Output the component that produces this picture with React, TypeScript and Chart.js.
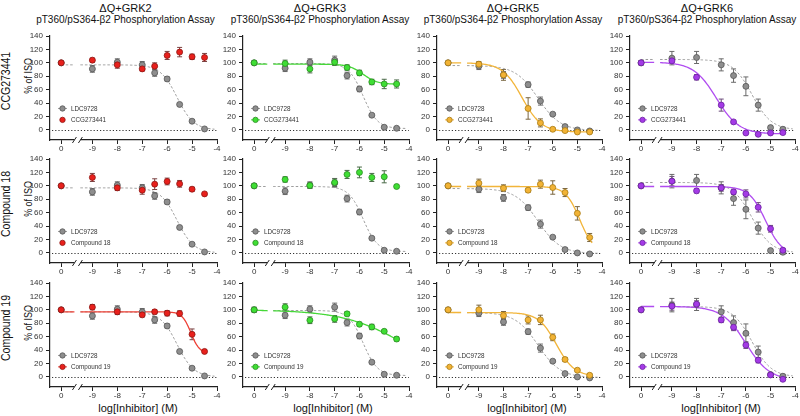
import React, { useEffect, useRef } from "react";
import { Chart, registerables } from "chart.js";

Chart.register(...registerables);
Chart.defaults.font.family = "'Liberation Sans', Arial, sans-serif";

// ---------- axis definitions ----------
const LOG_DOSES = [0, -9, -8, -7, -6.5, -6, -5.5, -5, -4.5]; // 0 = vehicle
const ZERO_POS = -10.25; // where the vehicle ("0") sits on the broken axis
const X_MIN = -10.7;
const X_MAX = -4;
const AXIS_BREAK = [-9.72, -9.48];
const X_TICKS = [ZERO_POS, -9, -8, -7, -6, -5, -4];
const Y_TICKS = [0, 20, 40, 60, 80, 100, 120, 140];
const Y_MIN = -15;
const Y_MAX = 140;
const LEGEND_Y = [32, 15];
const LDC_CURVE_END = -4.1;
const CMP_CURVE_END = -4.4;

// ---------- text ----------
const COLUMN_TITLES = ["ΔQ+GRK2", "ΔQ+GRK3", "ΔQ+GRK5", "ΔQ+GRK6"];
const ASSAY_TITLE = "pT360/pS364-β2 Phosphorylation Assay";
const ROW_COMPOUNDS = ["CCG273441", "Compound 18", "Compound 19"];
const Y_TITLE = "% of ISO";
const X_TITLE = "log[Inhibitor] (M)";
const REF_LABEL = "LDC9728";

// ---------- reference inhibitor LDC9728 (per GRK) ----------
const LDC_GRK2 = [100, 91, 101, 97, 85, 76, 38, 13, 1.5];
const LDC_GRK2_SEM = [2, 5, 5, 5, 5, 3, 2, 2, 1];
const LDC_GRK2_FIT = [97, 0, -5.6, 1.3]; // top, bottom, logIC50, hill

const LDC_GRK3 = [100, 92, 101, 104, 81, 61, 22, 4, 2.5];
const LDC_GRK3_SEM = [2, 5, 5, 6, 5, 4, 2, 2, 1];
const LDC_GRK3_FIT = [99, 2, -5.85, 1.5];

const LDC_GRK5 = [100, 95, 82, 67.5, 43, 23.5, 5, 0, -1.5];
const LDC_GRK5_SEM = [2, 5, 5, 4, 6, 2, 2, 2, 2];
const LDC_GRK5_FIT = [96, -1, -6.6, 0.95];

const LDC_GRK6 = [100, 107, 108, 97, 81, 65, 37, 3.5, 1];
const LDC_GRK6_SEM = [3, 10, 9, 9, 10, 14, 9, 3, 3];
const LDC_GRK6_FIT = [105, 0, -5.75, 1.1];

// ---------- CCG273441 ----------
const CCG_GRK2 = [100, 104, 97, 91, 95, 111, 116, 109, 108];
const CCG_GRK2_SEM = [2, 3, 5, 3, 5, 6, 7, 4, 6];
const CCG_GRK3 = [100, 99, 91, 101, 93, 85, 71.5, 68.5, 68.5];
const CCG_GRK3_SEM = [3, 5, 6, 5, 4, 4, 4, 7, 6];
const CCG_GRK3_FIT = [98, 68, -5.85, 1.5];
const CCG_GRK5 = [100, 98, 82, 32, 10.5, 1, -1, -3, -3];
const CCG_GRK5_SEM = [2, 4, 8, 16, 6, 2, 1, 1, 1];
const CCG_GRK5_FIT = [100, -3, -7.25, 1.1];
const CCG_GRK6 = [100, 103, 78.5, 37, 12, -4.5, -6.5, -4.5, -4];
const CCG_GRK6_SEM = [3, 3, 4, 9, 2, 1, 1, 1, 1];
const CCG_GRK6_FIT = [101, -6, -7.2, 0.95];

// ---------- Compound 18 ----------
const C18_GRK2 = [100, 112.5, 97, 93.5, 102.5, 106.5, 103, 95, 88];
const C18_GRK2_SEM = [2, 6, 4, 6, 8, 5, 5, 3, 2];
const C18_GRK3 = [100, 109.5, 100.5, 105, 117, 120, 112.5, 113.5, 99];
const C18_GRK3_SEM = [3, 4, 4, 6, 6, 8, 6, 9, 2];
const C18_GRK5 = [100, 104, 96.5, 93.5, 102.5, 97.5, 90, 59, 23];
const C18_GRK5_SEM = [2, 6, 5, 3, 6, 10, 6, 10, 6];
const C18_GRK5_FIT = [99, 0, -4.9, 1.5];
const C18_GRK6 = [100, 107, 92.5, 97, 91, 88, 68, 36, 4];
const C18_GRK6_SEM = [2, 7, 3, 5, 4, 6, 7, 5, 3];
const C18_GRK6_FIT = [99, -3, -5.2, 1.3];

// ---------- Compound 19 ----------
const C19_GRK2 = [100, 104, 97, 92.5, 97, 95, 94.5, 63.5, 38];
const C19_GRK2_SEM = [2, 4, 4, 3, 3, 4, 4, 8, 2];
const C19_GRK2_FIT = [97, 35, -5.05, 2.5];
const C19_GRK3 = [100, 104, 84.5, 86.5, 94, 78.5, 74.5, 68, 56.5];
const C19_GRK3_SEM = [4, 5, 5, 5, 3, 3, 4, 2, 3];
const C19_GRK3_FIT = [100, 0, -4.2, 0.35];
const C19_GRK5 = [100, 100, 91.5, 85, 85, 59, 26, 10, 2.5];
const C19_GRK5_SEM = [2, 7, 6, 6, 7, 5, 3, 2, 2];
const C19_GRK5_FIT = [96, 1, -5.85, 1.2];
const C19_GRK6 = [100, 105.5, 108.5, 85, 74, 47.5, 25, 3, -3.5];
const C19_GRK6_SEM = [2, 6, 5, 4, 5, 5, 4, 2, 2];
const C19_GRK6_FIT = [105, -5, -6.0, 0.9];

// ---------- styles ----------
const GRAY = { fill: "#8e8e8e", border: "#555555", line: "#9a9a9a", err: "#6a6a6a" };
const COL_STYLES = [
  { fill: "#e8201c", border: "#8e1512", line: "#ee4136", err: "#7a4040" },
  { fill: "#3fde34", border: "#2a8a22", line: "#46d838", err: "#4a6a48" },
  { fill: "#f2b335", border: "#a67a14", line: "#f2b53a", err: "#7a6640" },
  { fill: "#a43ae6", border: "#6a1f9e", line: "#b04cf0", err: "#6a4a7a" },
];

const REFS = [
  { v: LDC_GRK2, e: LDC_GRK2_SEM, fit: LDC_GRK2_FIT },
  { v: LDC_GRK3, e: LDC_GRK3_SEM, fit: LDC_GRK3_FIT },
  { v: LDC_GRK5, e: LDC_GRK5_SEM, fit: LDC_GRK5_FIT },
  { v: LDC_GRK6, e: LDC_GRK6_SEM, fit: LDC_GRK6_FIT },
];
const COMPOUNDS = [
  [
    { v: CCG_GRK2, e: CCG_GRK2_SEM, fit: null },
    { v: CCG_GRK3, e: CCG_GRK3_SEM, fit: CCG_GRK3_FIT },
    { v: CCG_GRK5, e: CCG_GRK5_SEM, fit: CCG_GRK5_FIT },
    { v: CCG_GRK6, e: CCG_GRK6_SEM, fit: CCG_GRK6_FIT },
  ],
  [
    { v: C18_GRK2, e: C18_GRK2_SEM, fit: null },
    { v: C18_GRK3, e: C18_GRK3_SEM, fit: null },
    { v: C18_GRK5, e: C18_GRK5_SEM, fit: C18_GRK5_FIT },
    { v: C18_GRK6, e: C18_GRK6_SEM, fit: C18_GRK6_FIT },
  ],
  [
    { v: C19_GRK2, e: C19_GRK2_SEM, fit: C19_GRK2_FIT },
    { v: C19_GRK3, e: C19_GRK3_SEM, fit: C19_GRK3_FIT },
    { v: C19_GRK5, e: C19_GRK5_SEM, fit: C19_GRK5_FIT },
    { v: C19_GRK6, e: C19_GRK6_SEM, fit: C19_GRK6_FIT },
  ],
];

// ---------- layout ----------
const COL_LEFT = [18, 211, 405, 598];
const COL_WIDTH = [207, 206, 205, 202];
const COL_PAD_R = [8, 8, 8, 4];
const ROW_TOP = [28, 151, 275];
const CANVAS_H = 134;
const PAD_TOP = 8;
const Y_AXIS_W = 32;
const X_AXIS_H = 22;
const TITLE_CX = [125.5, 320, 513, 707];
const XTITLE_CX = [138, 333, 527, 721];

// dose-response model (four-parameter logistic) for the fitted curves
function logistic(p: number[], x: number) {
  const [top, bottom, logIC50, hill] = p;
  return bottom + (top - bottom) / (1 + Math.pow(10, (x - logIC50) * hill));
}
function curve(p: number[], xEnd: number) {
  const pts: { x: number; y: number | null }[] = [];
  const step = 0.04;
  for (let x = ZERO_POS; x < AXIS_BREAK[0]; x += step) pts.push({ x, y: logistic(p, x) });
  pts.push({ x: AXIS_BREAK[0], y: logistic(p, AXIS_BREAK[0]) });
  pts.push({ x: (AXIS_BREAK[0] + AXIS_BREAK[1]) / 2, y: null });
  for (let x = AXIS_BREAK[1]; x < xEnd; x += step) pts.push({ x, y: logistic(p, x) });
  pts.push({ x: xEnd, y: logistic(p, xEnd) });
  return pts;
}
const pos = (d: number) => (d === 0 ? ZERO_POS : d);

// ---------- plugins ----------
const zeroLinePlugin = {
  id: "zeroLine",
  beforeDatasetsDraw(chart: any) {
    const { ctx, chartArea } = chart;
    const y = Math.round(chart.scales.y.getPixelForValue(0)) + 0.5;
    ctx.save();
    ctx.strokeStyle = "#333";
    ctx.lineWidth = 1;
    ctx.setLineDash([1.2, 2]);
    ctx.beginPath();
    ctx.moveTo(chartArea.left + 2, y);
    ctx.lineTo(chartArea.right, y);
    ctx.stroke();
    ctx.restore();
  },
};

const errorBarPlugin = {
  id: "errorBars",
  beforeDatasetsDraw(chart: any) {
    const { ctx } = chart;
    const ys = chart.scales.y;
    chart.data.datasets.forEach((ds: any, i: number) => {
      if (!ds.errors) return;
      const meta = chart.getDatasetMeta(i);
      ctx.save();
      ctx.strokeStyle = ds.errorColor;
      ctx.lineWidth = 1;
      meta.data.forEach((el: any, j: number) => {
        const e = ds.errors[j];
        const v = ds.data[j].y;
        const x = el.x;
        const y1 = ys.getPixelForValue(v + e);
        const y2 = ys.getPixelForValue(v - e);
        ctx.beginPath();
        ctx.moveTo(x, y1);
        ctx.lineTo(x, y2);
        ctx.moveTo(x - 2.5, y1);
        ctx.lineTo(x + 2.5, y1);
        ctx.moveTo(x - 2.5, y2);
        ctx.lineTo(x + 2.5, y2);
        ctx.stroke();
      });
      ctx.restore();
    });
  },
};

const axisBreakPlugin = {
  id: "axisBreak",
  afterDraw(chart: any) {
    const { ctx, chartArea } = chart;
    const xs = chart.scales.x;
    const x1 = xs.getPixelForValue(AXIS_BREAK[0]);
    const x2 = xs.getPixelForValue(AXIS_BREAK[1]);
    const yb = chartArea.bottom;
    ctx.save();
    ctx.fillStyle = "#fff";
    ctx.fillRect(x1, yb - 2, x2 - x1, 4);
    ctx.strokeStyle = "#222";
    ctx.lineWidth = 1;
    ctx.beginPath();
    ctx.moveTo(x1 - 2, yb + 3);
    ctx.lineTo(x1 + 2, yb - 3);
    ctx.moveTo(x2 - 2, yb + 3);
    ctx.lineTo(x2 + 2, yb - 3);
    ctx.stroke();
    ctx.restore();
  },
};

const panelLegendPlugin = {
  id: "panelLegend",
  afterDraw(chart: any, _args: any, opts: any) {
    const { ctx, chartArea } = chart;
    const ys = chart.scales.y;
    (opts.items || []).forEach((it: any, k: number) => {
      const y = ys.getPixelForValue(LEGEND_Y[k]);
      const x0 = chartArea.left + 8;
      ctx.save();
      if (it.line) {
        ctx.strokeStyle = it.line;
        ctx.lineWidth = 1;
        ctx.setLineDash(it.dash || []);
        ctx.beginPath();
        ctx.moveTo(x0, y);
        ctx.lineTo(x0 + 9, y);
        ctx.stroke();
        ctx.setLineDash([]);
      }
      ctx.beginPath();
      ctx.arc(x0 + 4.5, y, 2.7, 0, Math.PI * 2);
      ctx.fillStyle = it.fill;
      ctx.fill();
      ctx.lineWidth = 0.8;
      ctx.strokeStyle = it.border;
      ctx.stroke();
      ctx.fillStyle = "#333";
      ctx.font = "6.3px 'Liberation Sans', Arial, sans-serif";
      ctx.textBaseline = "middle";
      ctx.textAlign = "left";
      ctx.fillText(it.label, x0 + 13, y + 0.3);
      ctx.restore();
    });
  },
};

function Panel({ row, col }: { row: number; col: number }) {
  const ref = useRef<HTMLCanvasElement | null>(null);
  useEffect(() => {
    const ref0 = REFS[col];
    const cmp = COMPOUNDS[row][col];
    const st = COL_STYLES[col];
    const label = ROW_COMPOUNDS[row];
    const datasets: any[] = [
      {
        label,
        data: LOG_DOSES.map((d, i) => ({ x: pos(d), y: cmp.v[i] })),
        errors: cmp.e,
        errorColor: st.err,
        pointRadius: 3,
        pointBackgroundColor: st.fill,
        pointBorderColor: st.border,
        pointBorderWidth: 0.8,
        showLine: false,
      },
      {
        label: REF_LABEL,
        data: LOG_DOSES.map((d, i) => ({ x: pos(d), y: ref0.v[i] })),
        errors: ref0.e,
        errorColor: GRAY.err,
        pointRadius: 3,
        pointBackgroundColor: GRAY.fill,
        pointBorderColor: GRAY.border,
        pointBorderWidth: 0.8,
        showLine: false,
      },
    ];
    if (cmp.fit) {
      datasets.push({
        label: label + " fit",
        data: curve(cmp.fit, CMP_CURVE_END),
        showLine: true,
        pointRadius: 0,
        borderColor: st.line,
        borderWidth: 1.3,
        spanGaps: false,
      });
    }
    datasets.push({
      label: REF_LABEL + " fit",
      data: curve(ref0.fit, LDC_CURVE_END),
      showLine: true,
      pointRadius: 0,
      borderColor: GRAY.line,
      borderWidth: 1,
      borderDash: [2.5, 2],
      spanGaps: false,
    });

    const chart = new Chart(ref.current as HTMLCanvasElement, {
      type: "scatter",
      data: { datasets },
      options: {
        responsive: false,
        animation: false,
        events: [],
        layout: { padding: { top: PAD_TOP, right: COL_PAD_R[col], left: 0, bottom: 0 } },
        plugins: {
          legend: { display: false },
          tooltip: { enabled: false },
          panelLegend: {
            items: [
              { label: REF_LABEL, fill: GRAY.fill, border: GRAY.border, line: GRAY.line, dash: [2, 1.5] },
              { label, fill: st.fill, border: st.border, line: cmp.fit ? st.line : null },
            ],
          },
        } as any,
        scales: {
          x: {
            type: "linear",
            min: X_MIN,
            max: X_MAX,
            afterBuildTicks: (s: any) => {
              s.ticks = X_TICKS.map((v) => ({ value: v }));
            },
            afterFit: (s: any) => {
              s.height = X_AXIS_H;
            },
            ticks: {
              autoSkip: false,
              maxRotation: 0,
              padding: 0,
              color: "#333",
              font: { size: 8 },
              callback: (v: any) => (v === ZERO_POS ? "0" : String(v)),
            },
            grid: { display: true, drawOnChartArea: false, drawTicks: true, tickLength: 4, color: "#222", lineWidth: 1 },
            border: { display: true, color: "#222", width: 1.2 },
          },
          y: {
            type: "linear",
            min: Y_MIN,
            max: Y_MAX,
            afterBuildTicks: (s: any) => {
              s.ticks = Y_TICKS.map((v) => ({ value: v }));
            },
            afterFit: (s: any) => {
              s.width = Y_AXIS_W;
            },
            ticks: { autoSkip: false, padding: 3, color: "#333", font: { size: 8 } },
            grid: { display: true, drawOnChartArea: false, drawTicks: true, tickLength: 4, color: "#222", lineWidth: 1 },
            border: { display: true, color: "#222", width: 1.2 },
          },
        },
      },
      plugins: [zeroLinePlugin, errorBarPlugin, axisBreakPlugin, panelLegendPlugin],
    } as any);
    return () => chart.destroy();
  }, [row, col]);
  return (
    <canvas
      ref={ref}
      width={COL_WIDTH[col]}
      height={CANVAS_H}
      style={{ position: "absolute", left: COL_LEFT[col], top: ROW_TOP[row], width: COL_WIDTH[col], height: CANVAS_H }}
    />
  );
}

const font = "'Liberation Sans', Arial, sans-serif";
function Label({ x, y, size, text, rotate, squeeze }: { x: number; y: number; size: number; text: string; rotate?: boolean; squeeze?: number }) {
  const tf = `translate(-50%, -50%)${rotate ? " rotate(-90deg)" : ""}${squeeze ? ` scaleX(${squeeze})` : ""}`;
  return (
    <div
      style={{
        position: "absolute",
        left: x,
        top: y,
        transform: tf,
        whiteSpace: "nowrap",
        fontFamily: font,
        fontSize: size,
        lineHeight: 1,
        color: "#111",
      }}
    >
      {text}
    </div>
  );
}

export default function App() {
  const panels = [];
  for (let r = 0; r < 3; r++) for (let c = 0; c < 4; c++) panels.push(<Panel key={`${r}-${c}`} row={r} col={c} />);
  return (
    <div style={{ position: "absolute", left: 0, top: 0, width: 800, height: 416, overflow: "hidden", background: "#fff" }}>
      {COLUMN_TITLES.map((t, c) => (
        <Label key={"t" + c} x={TITLE_CX[c]} y={8} size={11} text={t} />
      ))}
      {COLUMN_TITLES.map((_, c) => (
        <Label key={"a" + c} x={TITLE_CX[c]} y={20} size={10} text={ASSAY_TITLE} />
      ))}
      {ROW_COMPOUNDS.map((t, r) => (
        <Label key={"r" + r} x={6} y={ROW_TOP[r] + 53} size={12.5} text={t} rotate squeeze={0.84} />
      ))}
      {ROW_COMPOUNDS.map((_, r) => (
        <Label key={"y" + r} x={28} y={ROW_TOP[r] + 48} size={10.5} text={Y_TITLE} rotate squeeze={0.85} />
      ))}
      {XTITLE_CX.map((cx, c) => (
        <Label key={"x" + c} x={cx} y={408} size={11} text={X_TITLE} />
      ))}
      {panels}
    </div>
  );
}
